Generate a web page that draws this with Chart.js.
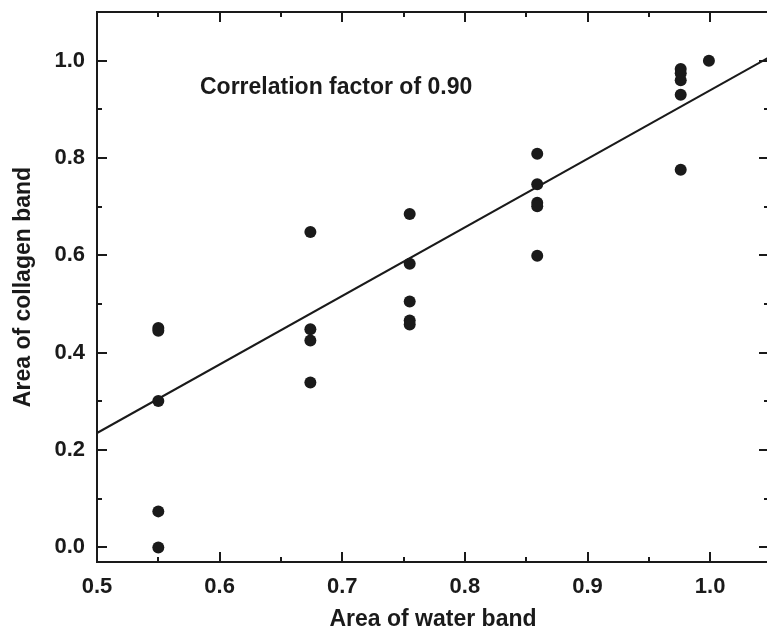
<!DOCTYPE html>
<html>
<head>
<meta charset="utf-8">
<script src="https://cdn.jsdelivr.net/npm/chart.js@4.4.1/dist/chart.umd.min.js"></script>
<style>
html, body { margin: 0; padding: 0; background: #fff; overflow: hidden; }
</style>
</head>
<body>
<canvas id="mycanvas" width="775" height="631"></canvas>
<script>
// measured points, grouped by water band area
var waterArea = [
	0.55, 0.55, 0.55, 0.55, 0.55,
	0.674, 0.674, 0.674, 0.674,
	0.755, 0.755, 0.755, 0.755, 0.755,
	0.859, 0.859, 0.859, 0.859, 0.859,
	0.976, 0.976, 0.976, 0.976, 0.976,
	0.999
];
var collagenArea = [
	0.451, 0.445, 0.301, 0.074, 0.0,
	0.648, 0.448, 0.425, 0.339,
	0.685, 0.583, 0.505, 0.466, 0.458,
	0.809, 0.746, 0.708, 0.701, 0.599,
	0.983, 0.974, 0.960, 0.930, 0.776,
	1.0
];

// linear fit line ends
var fitX = [0.5, 1.048];
var fitY = [0.235, 1.007];

var xTicks = [0.5, 0.6, 0.7, 0.8, 0.9, 1.0];
var xMinorTicks = [0.55, 0.65, 0.75, 0.85, 0.95];
var yTicks = [0.0, 0.2, 0.4, 0.6, 0.8, 1.0];
var yMinorTicks = [0.1, 0.3, 0.5, 0.7, 0.9];

var noteText = 'Correlation factor of 0.90';
var notePos = [0.584, 0.944];

var ink = '#1a1a1a';
var fontFamily = '"Liberation Sans", Arial, Helvetica, sans-serif';

var points = [];
for (var i in waterArea) {
	points.push({x: waterArea[i], y: collagenArea[i]});
}
var fitLine = [];
for (var j in fitX) {
	fitLine.push({x: fitX[j], y: fitY[j]});
}

// box frame with inward ticks on all four sides, plus the note
var frameTicks = {
	id: 'frameTicks',
	afterDatasetsDraw: function(chart) {
		var ctx = chart.ctx;
		var a = chart.chartArea;
		var sx = chart.scales.x;
		var sy = chart.scales.y;
		ctx.save();
		ctx.strokeStyle = ink;
		ctx.lineWidth = 2;
		ctx.strokeRect(a.left, a.top, a.right - a.left, a.bottom - a.top);

		ctx.beginPath();
		function xTick(v, len) {
			var px = Math.round(sx.getPixelForValue(v));
			ctx.moveTo(px, a.bottom); ctx.lineTo(px, a.bottom - len);
			ctx.moveTo(px, a.top); ctx.lineTo(px, a.top + len);
		}
		function yTick(v, len) {
			var py = Math.round(sy.getPixelForValue(v));
			ctx.moveTo(a.left, py); ctx.lineTo(a.left + len, py);
			ctx.moveTo(a.right, py); ctx.lineTo(a.right - len, py);
		}
		xTicks.forEach(function(v) { xTick(v, 10); });
		xMinorTicks.forEach(function(v) { xTick(v, 5); });
		yTicks.forEach(function(v) { yTick(v, 10); });
		yMinorTicks.forEach(function(v) { yTick(v, 5); });
		ctx.stroke();

		ctx.fillStyle = ink;
		ctx.font = 'bold 23px ' + fontFamily;
		ctx.textAlign = 'left';
		ctx.textBaseline = 'middle';
		ctx.fillText(noteText, sx.getPixelForValue(notePos[0]), sy.getPixelForValue(notePos[1]));
		ctx.restore();
	}
};

var ctx = document.getElementById('mycanvas');

var chart = new Chart(ctx, {
	type: 'scatter',
	data: {
		datasets: [
			{
				label: 'Fit',
				type: 'line',
				data: fitLine,
				borderColor: ink,
				borderWidth: 2,
				pointRadius: 0,
				fill: false,
				tension: 0
			},
			{
				label: 'Samples',
				data: points,
				backgroundColor: ink,
				borderColor: ink,
				pointRadius: 6,
				pointBorderWidth: 0
			}
		]
	},
	options: {
		responsive: false,
		animation: false,
		devicePixelRatio: 1,
		layout: { padding: { top: 12, right: 4, left: 0, bottom: 0 } },
		plugins: {
			legend: { display: false },
			tooltip: { enabled: false }
		},
		scales: {
			x: {
				type: 'linear',
				min: 0.5,
				max: 1.048,
				afterBuildTicks: function(s) {
					s.ticks = xTicks.map(function(v) { return {value: v}; });
				},
				afterFit: function(s) {
					s.height = 69;
					s.paddingLeft = 0;
					s.paddingRight = 0;
				},
				grid: { display: false, drawTicks: false },
				border: { display: false },
				ticks: {
					padding: 12,
					color: ink,
					font: { family: fontFamily, size: 22, weight: 'bold' },
					callback: function(v) { return Number(v).toFixed(1); }
				},
				title: {
					display: true,
					text: 'Area of water band',
					color: ink,
					padding: 0,
					font: { family: fontFamily, size: 23, weight: 'bold', lineHeight: 1 }
				}
			},
			y: {
				type: 'linear',
				min: -0.03,
				max: 1.10,
				afterBuildTicks: function(s) {
					s.ticks = yTicks.map(function(v) { return {value: v}; });
				},
				afterFit: function(s) {
					s.width = 97;
					s.paddingTop = 0;
					s.paddingBottom = 0;
				},
				grid: { display: false, drawTicks: false },
				border: { display: false },
				ticks: {
					padding: 12,
					color: ink,
					font: { family: fontFamily, size: 22, weight: 'bold' },
					callback: function(v) { return Number(v).toFixed(1); }
				},
				title: {
					display: true,
					text: 'Area of collagen band',
					color: ink,
					padding: { top: 12, bottom: 0 },
					font: { family: fontFamily, size: 23, weight: 'bold', lineHeight: 1 }
				}
			}
		}
	},
	plugins: [frameTicks]
});
</script>
</body>
</html>
